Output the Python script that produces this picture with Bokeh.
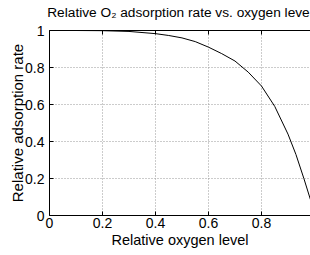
from bokeh.plotting import figure
from bokeh.models import Range1d, FixedTicker, LinearAxis
from bokeh.embed import file_html
from bokeh.resources import INLINE

# Data
oxygen_level = [0.0, 0.1, 0.2, 0.3, 0.4, 0.45, 0.5, 0.55, 0.6, 0.65, 0.7, 0.75,
                0.8, 0.85, 0.9, 0.93, 0.96, 0.985]
adsorption_rate = [1.0, 1.0, 0.999, 0.995, 0.983, 0.973, 0.96, 0.94, 0.91, 0.875,
                   0.835, 0.775, 0.70, 0.59, 0.44, 0.33, 0.20, 0.085]

x_ticks = [0, 0.2, 0.4, 0.6, 0.8]
x_tick_labels = ["0", "0.2", "0.4", "0.6", "0.8"]
y_ticks = [0, 0.2, 0.4, 0.6, 0.8, 1.0]
y_tick_labels = ["0", "0.2", "0.4", "0.6", "0.8", "1"]

title_text = "Relative O\u2082 adsorption rate vs. oxygen level"
x_label = "Relative oxygen level"
y_label = "Relative adsorption rate"

FONT = "Liberation Sans"
FS = "14px"

p = figure(width=310, height=255, output_backend="svg", toolbar_location=None,
           x_range=Range1d(0, 0.985), y_range=Range1d(0, 1),
           min_border_left=49, min_border_top=30, min_border_right=0,
           min_border_bottom=40, outline_line_color=None,
           background_fill_color="white", border_fill_color="white")

p.line(oxygen_level, adsorption_rate, line_color="black", line_width=1)

for ax, ticks, labels in ((p.xaxis[0], x_ticks, x_tick_labels),
                          (p.yaxis[0], y_ticks, y_tick_labels)):
    ax.ticker = FixedTicker(ticks=ticks)
    ax.major_label_overrides = {t: l for t, l in zip(ticks, labels)}
    ax.major_tick_in = 4
    ax.major_tick_out = 0
    ax.minor_tick_line_color = None
    ax.axis_line_color = "black"
    ax.major_tick_line_color = "black"
    ax.major_label_text_font = FONT
    ax.major_label_text_font_size = FS
    ax.major_label_text_color = "black"
    ax.axis_label_text_font = FONT
    ax.axis_label_text_font_style = "normal"
    ax.axis_label_text_color = "black"

p.xaxis[0].axis_label = x_label
p.xaxis[0].axis_label_text_font_size = "14.5px"
p.xaxis[0].major_label_standoff = 2
p.xaxis[0].axis_label_standoff = 1
p.yaxis[0].axis_label = y_label
p.yaxis[0].axis_label_text_font_size = "15px"
p.yaxis[0].major_label_standoff = 5
p.yaxis[0].axis_label_standoff = -4

# top frame edge with inward ticks; it also carries the chart title
top = LinearAxis(ticker=FixedTicker(ticks=x_ticks), major_tick_in=4, major_tick_out=0,
                 minor_tick_line_color=None, major_label_standoff=0,
                 major_label_overrides={t: "" for t in x_ticks},
                 axis_line_color="black", major_tick_line_color="black",
                 axis_label=title_text, axis_label_standoff=11,
                 axis_label_text_font=FONT, axis_label_text_font_size="13.7px",
                 axis_label_text_font_style="normal", axis_label_text_color="black")
p.add_layout(top, "above")

p.xgrid.ticker = FixedTicker(ticks=x_ticks)
p.ygrid.ticker = FixedTicker(ticks=y_ticks)
for g in (p.xgrid, p.ygrid):
    g.grid_line_color = "#999999"
    g.grid_line_dash = "1 2"
    g.grid_line_width = 1

open("out.html", "w").write(file_html(p, INLINE))
